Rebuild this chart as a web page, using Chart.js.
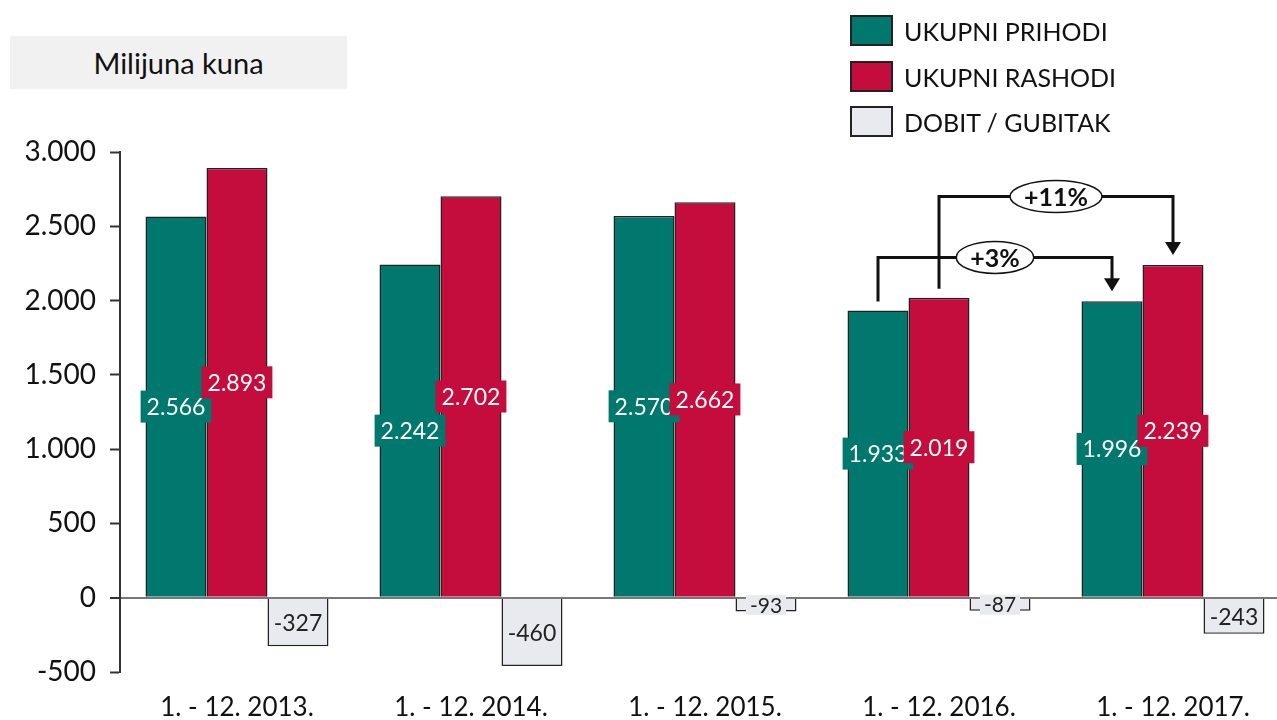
<!DOCTYPE html>
<html>
<head>
<meta charset="utf-8">
<script src="https://cdn.jsdelivr.net/npm/chart.js@4/dist/chart.umd.min.js"></script>
<style>
  html, body { margin: 0; padding: 0; background: #fff; overflow: hidden; width: 1277px; height: 720px; }
  #wrap { position: absolute; left: 0; top: 0; width: 1290px; height: 720px; }
  .title { position: absolute; left: 10px; top: 36px; width: 337px; height: 53px; background: #f1f1f1;
           font: 29px Lato, sans-serif; color: #111; display: flex; align-items: center; justify-content: center; }
  .leg { position: absolute; left: 850px; font: 25px Lato, sans-serif; color: #111; display: flex; align-items: center; height: 31px; }
  .leg span.b { display: inline-block; width: 43px; height: 31px; box-sizing: border-box; border: 2px solid #222; margin-right: 11px; }
</style>
</head>
<body>
<div id="wrap"><canvas id="c"></canvas></div>
<div class="title">Milijuna kuna</div>
<div class="leg" style="top:15px"><span class="b" style="background:#00786E"></span>UKUPNI PRIHODI</div>
<div class="leg" style="top:61px"><span class="b" style="background:#C40C3D"></span>UKUPNI RASHODI</div>
<div class="leg" style="top:106px"><span class="b" style="background:#E8EAEF"></span>DOBIT / GUBITAK</div>
<script>
const categories = ['1. - 12. 2013.', '1. - 12. 2014.', '1. - 12. 2015.', '1. - 12. 2016.', '1. - 12. 2017.'];
const seriesNames = ['UKUPNI PRIHODI', 'UKUPNI RASHODI', 'DOBIT / GUBITAK'];
const prihodi = [2566, 2242, 2570, 1933, 1996];
const rashodi = [2893, 2702, 2662, 2019, 2239];
const dobit = [-327, -460, -93, -87, -243];
const yTicks = [-500, 0, 500, 1000, 1500, 2000, 2500, 3000];
// change annotations (2016 -> 2017)
const changeLabels = ['+3%', '+11%'];
const changeSeries = [0, 1];
const changeLevels = [2290, 2700];

const colors = ['#00786E', '#C40C3D', '#E8EAEF'];
const labelText = ['#ffffff', '#ffffff', '#222222'];

function fmt(v) {
  const s = Math.abs(v).toString().replace(/\B(?=(\d{3})+(?!\d))/g, '.');
  return (v < 0 ? '-' : '') + s;
}

const labelPlugin = {
  id: 'barLabels',
  afterDatasetsDraw(chart) {
    const ctx = chart.ctx;
    ctx.save();
    chart.data.datasets.forEach((ds, di) => {
      const meta = chart.getDatasetMeta(di);
      meta.data.forEach((bar, i) => {
        const v = ds.data[i];
        const txt = fmt(v);
        const small = Math.abs(v) < 100;
        const fs = small ? 21 : 23;
        ctx.font = fs + 'px Lato, sans-serif';
        let w = ctx.measureText(txt).width + (small ? 8 : 12);
        if (di === 2 && !small) w = Math.min(w, bar.width - 4);
        const h = small ? 20 : 32;
        const cy = (bar.y + bar.base) / 2;
        ctx.fillStyle = colors[di];
        ctx.fillRect(bar.x - w / 2, cy - h / 2, w, h);
        ctx.fillStyle = labelText[di];
        ctx.textAlign = 'center';
        ctx.textBaseline = 'middle';
        ctx.fillText(txt, bar.x, cy + 1);
      });
    });
    ctx.restore();
  }
};

const changePlugin = {
  id: 'changes',
  afterDraw(chart) {
    const ctx = chart.ctx;
    const ys = chart.scales.y;
    ctx.save();
    changeLabels.forEach((lab, k) => {
      const meta = chart.getDatasetMeta(changeSeries[k]);
      const a = meta.data[3], b = meta.data[4];
      const ly = ys.getPixelForValue(changeLevels[k]);
      const y0 = a.y - 9;
      const tip = b.y - 10;
      ctx.strokeStyle = '#111';
      ctx.lineWidth = 3;
      ctx.beginPath();
      ctx.moveTo(a.x, y0);
      ctx.lineTo(a.x, ly);
      ctx.lineTo(b.x, ly);
      ctx.lineTo(b.x, tip - 12);
      ctx.stroke();
      ctx.fillStyle = '#111';
      ctx.beginPath();
      ctx.moveTo(b.x - 8, tip - 13);
      ctx.lineTo(b.x + 8, tip - 13);
      ctx.lineTo(b.x, tip);
      ctx.closePath();
      ctx.fill();
      const cx = (a.x + b.x) / 2;
      ctx.font = 'bold 25px Lato, sans-serif';
      const tw = ctx.measureText(lab).width;
      ctx.beginPath();
      ctx.ellipse(cx, ly, tw / 2 + 14, 16, 0, 0, Math.PI * 2);
      ctx.fillStyle = '#fff';
      ctx.fill();
      ctx.lineWidth = 1.5;
      ctx.stroke();
      ctx.fillStyle = '#111';
      ctx.textAlign = 'center';
      ctx.textBaseline = 'middle';
      ctx.fillText(lab, cx, ly + 1);
    });
    ctx.restore();
  }
};

new Chart(document.getElementById('c'), {
  type: 'bar',
  data: {
    labels: categories,
    datasets: [prihodi, rashodi, dobit].map((d, i) => ({
      label: seriesNames[i],
      data: d,
      backgroundColor: colors[i],
      borderColor: '#222',
      borderWidth: 1.5,
      categoryPercentage: 0.782,
      barPercentage: 1.0
    }))
  },
  options: {
    responsive: true,
    maintainAspectRatio: false,
    animation: false,
    layout: { padding: { top: 152, bottom: 0, left: 0, right: 0 } },
    plugins: { legend: { display: false }, tooltip: { enabled: false } },
    scales: {
      x: {
        grid: { display: false },
        border: { display: false },
        ticks: { color: '#111', font: { family: 'Lato', size: 26 }, padding: 12, maxRotation: 0 },
        afterFit(s) { s.height = 48; }
      },
      y: {
        min: -500, max: 3000,
        afterBuildTicks(s) { s.ticks = yTicks.map(v => ({ value: v })); },
        border: { display: true, color: '#333', width: 2 },
        grid: {
          color: c => (c.tick && c.tick.value === 0) ? '#777' : 'rgba(0,0,0,0)',
          lineWidth: c => (c.tick && c.tick.value === 0) ? 2 : 1,
          tickColor: '#333',
          tickWidth: 2,
          tickLength: 10
        },
        ticks: { color: '#111', font: { family: 'Lato', size: 28 }, padding: 14, callback: v => fmt(v) },
        afterFit(s) { s.width = 120; }
      }
    }
  },
  plugins: [labelPlugin, changePlugin]
});
</script>
</body>
</html>
